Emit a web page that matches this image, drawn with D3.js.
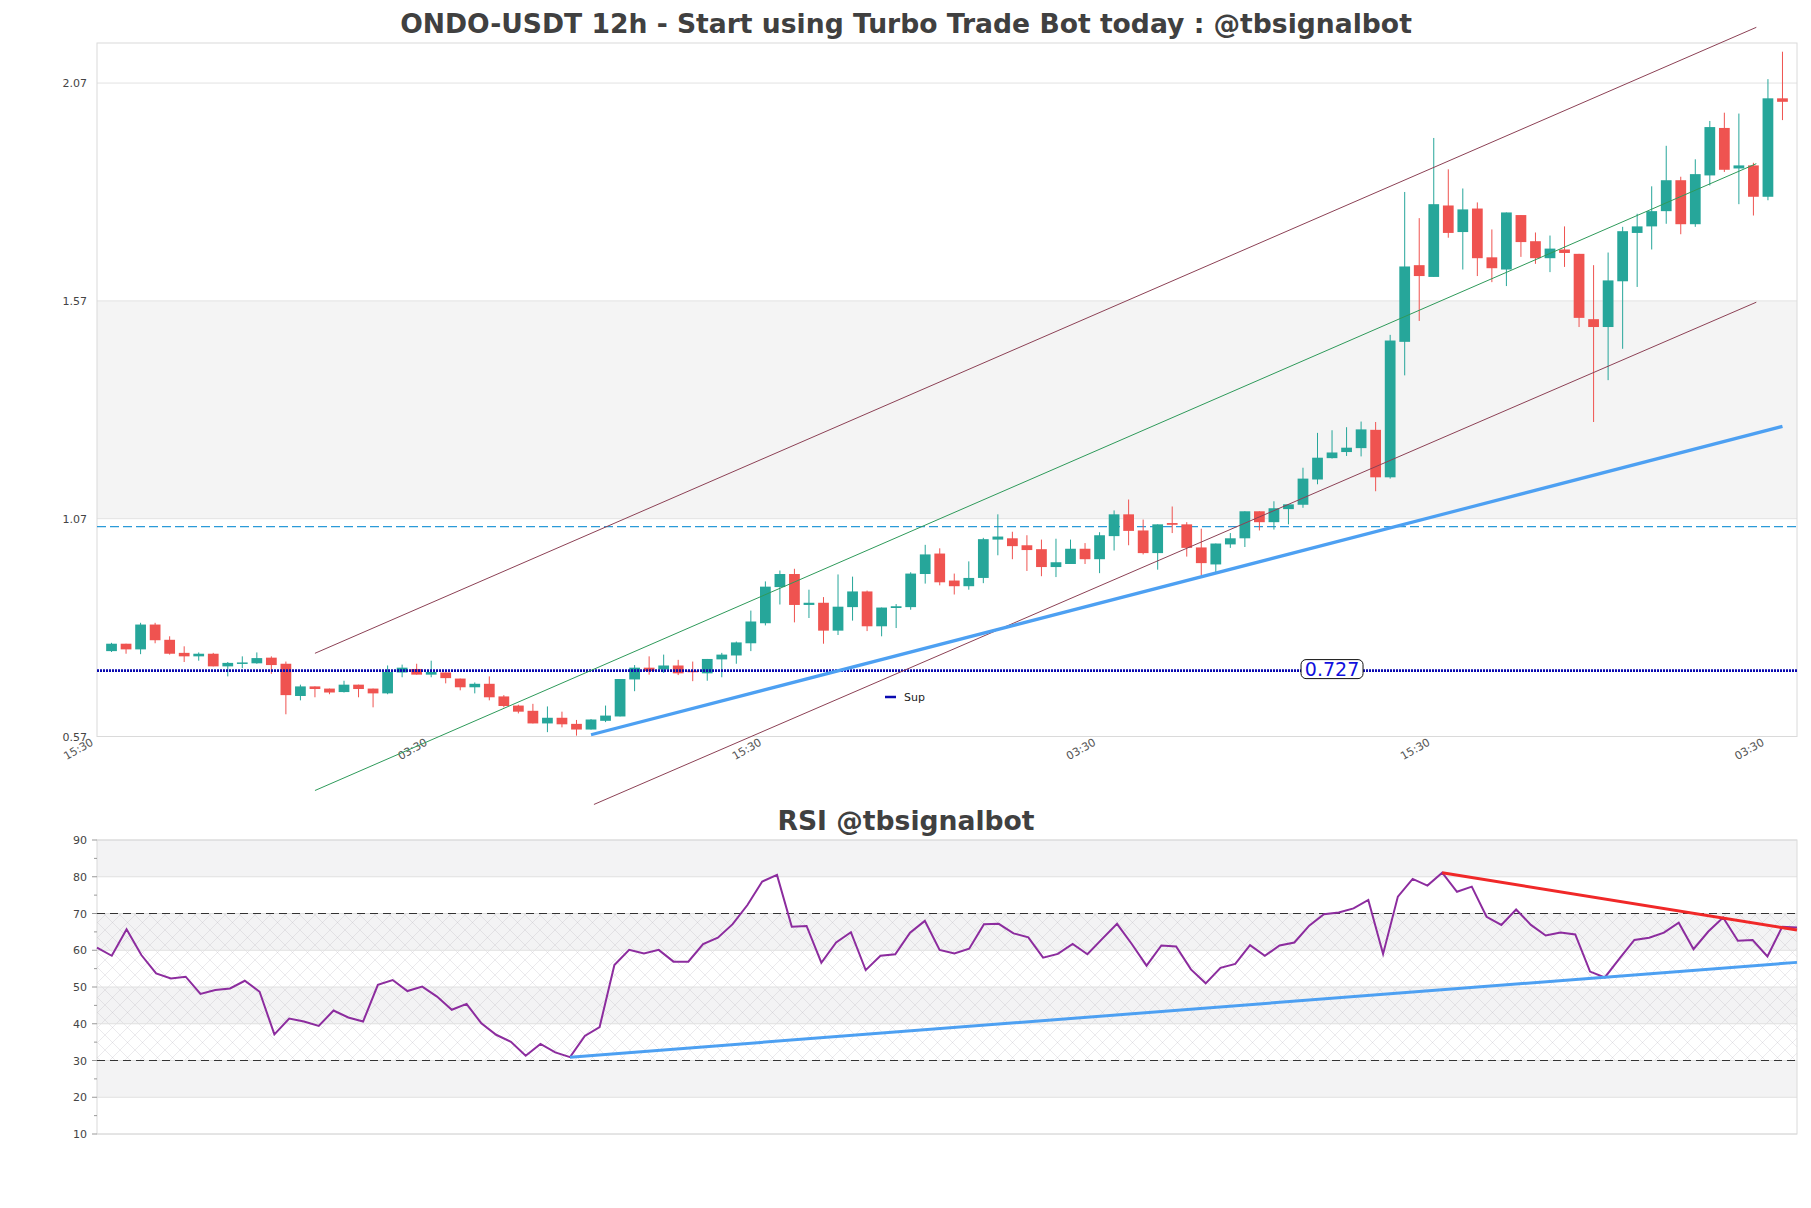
<!DOCTYPE html>
<html><head><meta charset="utf-8">
<script src="https://cdn.jsdelivr.net/npm/d3@7"></script>
<style>body{margin:0;background:#fff}svg{display:block}</style>
</head><body><svg id="c" width="1811" height="1208"></svg>
<script>
// ---------- DATA ----------
const opens  = [0.766,0.783,0.770,0.827,0.792,0.762,0.754,0.760,0.731,0.737,0.738,0.751,0.737,0.663,0.685,0.680,0.672,0.689,0.680,0.669,
0.717,0.725,0.712,0.717,0.703,0.683,0.691,0.662,0.641,0.629,0.600,0.613,0.599,0.586,0.606,0.616,0.701,0.728,0.724,0.733,
0.721,0.715,0.747,0.756,0.784,0.830,0.913,0.943,0.872,0.877,0.813,0.867,0.903,0.823,0.865,0.867,0.943,0.990,0.928,0.915,
0.934,1.022,1.025,1.009,1.000,0.959,0.966,1.001,0.977,1.030,1.080,1.043,0.991,1.060,1.057,1.004,0.965,1.011,1.025,1.087,
1.062,1.092,1.102,1.160,1.209,1.223,1.232,1.274,1.165,1.476,1.652,1.625,1.789,1.728,1.782,1.670,1.642,1.767,1.707,1.668,
1.688,1.678,1.528,1.510,1.615,1.726,1.741,1.776,1.847,1.746,1.858,1.967,1.874,1.881,1.809,2.035];
const highs  = [0.785,0.783,0.831,0.831,0.800,0.777,0.763,0.762,0.741,0.754,0.763,0.754,0.742,0.689,0.685,0.680,0.698,0.689,0.680,0.733,
0.735,0.737,0.744,0.717,0.703,0.694,0.708,0.665,0.643,0.645,0.639,0.627,0.608,0.610,0.641,0.702,0.734,0.754,0.758,0.746,
0.742,0.748,0.762,0.788,0.859,0.926,0.951,0.955,0.907,0.890,0.942,0.937,0.905,0.866,0.874,0.947,1.010,1.002,0.944,0.972,
1.026,1.080,1.040,1.032,1.022,1.024,1.022,1.014,1.039,1.089,1.114,1.068,1.057,1.098,1.062,1.047,1.013,1.037,1.087,1.087,
1.110,1.103,1.187,1.267,1.273,1.280,1.293,1.292,1.492,1.820,1.760,1.944,1.872,1.828,1.796,1.734,1.773,1.767,1.727,1.720,
1.741,1.678,1.652,1.681,1.740,1.770,1.833,1.926,1.855,1.895,1.983,2.002,2.000,1.887,2.079,2.142];
const lows   = [0.764,0.760,0.759,0.784,0.758,0.741,0.744,0.731,0.708,0.727,0.737,0.714,0.621,0.653,0.660,0.667,0.671,0.660,0.637,0.667,
0.706,0.712,0.706,0.692,0.676,0.669,0.653,0.637,0.623,0.600,0.580,0.591,0.572,0.586,0.603,0.616,0.674,0.712,0.716,0.711,
0.697,0.698,0.706,0.737,0.766,0.825,0.873,0.832,0.842,0.783,0.803,0.836,0.812,0.800,0.819,0.861,0.921,0.917,0.896,0.907,
0.922,0.986,0.977,0.950,0.938,0.936,0.966,0.966,0.945,0.997,1.009,0.988,0.953,1.037,0.983,0.940,0.945,1.003,1.005,1.043,
1.045,1.057,1.095,1.149,1.208,1.214,1.213,1.133,1.162,1.399,1.524,1.625,1.715,1.642,1.627,1.613,1.604,1.671,1.655,1.636,
1.648,1.510,1.292,1.388,1.460,1.602,1.688,1.747,1.723,1.740,1.835,1.866,1.792,1.766,1.801,1.985];
const closes = [0.783,0.770,0.827,0.791,0.760,0.754,0.760,0.731,0.739,0.740,0.750,0.734,0.665,0.685,0.679,0.671,0.689,0.679,0.669,0.718,
0.728,0.712,0.718,0.704,0.683,0.691,0.660,0.640,0.627,0.600,0.613,0.598,0.586,0.609,0.618,0.702,0.728,0.720,0.733,0.715,
0.718,0.748,0.758,0.786,0.834,0.914,0.943,0.872,0.877,0.813,0.868,0.903,0.823,0.866,0.869,0.944,0.988,0.924,0.915,0.934,
1.023,1.029,1.007,0.998,0.959,0.970,1.001,0.977,1.032,1.080,1.042,0.991,1.057,1.056,1.003,0.968,1.013,1.025,1.087,1.062,
1.094,1.103,1.162,1.210,1.222,1.233,1.275,1.165,1.479,1.649,1.627,1.792,1.726,1.780,1.668,1.645,1.773,1.705,1.668,1.690,
1.680,1.531,1.510,1.617,1.730,1.741,1.776,1.847,1.746,1.861,1.969,1.871,1.881,1.809,2.035,2.027];
const rsiValues = [60.7,58.5,65.7,58.7,53.7,52.3,52.8,48.1,49.2,49.6,51.7,48.7,37.1,41.4,40.6,39.4,43.6,41.7,40.6,50.6,
51.9,48.9,50.1,47.4,43.8,45.4,40.1,37.0,35.1,31.3,34.5,32.2,30.9,36.7,39.1,56.0,60.1,59.1,60.1,56.9,
56.9,61.7,63.4,67.1,72.3,78.7,80.5,66.4,66.6,56.6,62.1,64.9,54.6,58.5,58.9,64.8,68.0,60.1,59.1,60.4,
67.1,67.2,64.6,63.5,58.0,59.0,61.7,58.9,63.1,67.2,61.7,55.8,61.3,61.0,54.8,51.0,55.2,56.3,61.4,58.5,
61.3,62.1,66.7,69.8,70.3,71.4,73.7,59.0,74.6,79.4,77.6,81.1,75.9,77.3,69.1,66.9,71.1,66.9,64.0,64.8,
64.3,54.2,52.6,57.8,62.8,63.4,64.8,67.5,60.3,65.1,68.9,62.6,62.8,58.3,66.4,66.2];

const priceTicks = [0.57, 1.07, 1.57, 2.07];
const priceTickLabels = ["0.57", "1.07", "1.57", "2.07"];
const timeTickIdx = [-1, 22, 45, 68, 91, 114];
const timeTickLabels = ["15:30", "03:30", "15:30", "03:30", "15:30", "03:30"];
const rsiTicks = [10, 20, 30, 40, 50, 60, 70, 80, 90];
const rsiMinorTicks = [15, 25, 35, 45, 55, 65, 75, 85];
const supLevel = 0.727;
const supLabel = "0.727";
const resistLevel = 1.052;
const channelUpper = [[14, 0.761], [113.2, 2.198]];
const channelMid   = [[14, 0.446], [113.2, 1.885]];
const channelLower = [[33.2, 0.414], [113.2, 1.567]];
const supportTrend = [[33, 0.574], [115, 1.282]];
const rsiSupport = [[32, 30.9], [115, 56.7]];
const rsiResist  = [[91, 81.1], [115, 65.5]];
const mainTitle = "ONDO-USDT 12h - Start using Turbo Trade Bot today : @tbsignalbot";
const rsiTitle = "RSI @tbsignalbot";

// ---------- LAYOUT ----------
const L = 97, R = 1797, T = 43, B = 736.5;
const RT = 840, RB = 1134;
const svg = d3.select("#c");
const font = "DejaVu Sans, Liberation Sans, sans-serif";

const x = d3.scaleLinear().domain([-1, 116]).range([L, R]);
const y = d3.scaleLinear().domain([0.57, 2.162]).range([B, T]);
const xr = d3.scaleLinear().domain([0, rsiValues.length - 1]).range([L, R]);
const yr = d3.scaleLinear().domain([10, 90]).range([RB, RT]);

svg.append("rect").attr("width", 1811).attr("height", 1208).attr("fill", "#fff");

const defs = svg.append("defs");
const pat = defs.append("pattern").attr("id", "hatch").attr("patternUnits", "userSpaceOnUse")
  .attr("width", 15).attr("height", 15);
pat.append("path").attr("d", "M0,0L15,15M15,0L0,15").attr("stroke", "rgba(165,160,175,0.32)")
  .attr("stroke-width", 0.7).attr("fill", "none");

// titles
svg.append("text").attr("x", 906).attr("y", 33).attr("text-anchor", "middle")
  .attr("font-family", font).attr("font-weight", "bold").attr("font-size", 26.6)
  .attr("fill", "#404040").text(mainTitle);
svg.append("text").attr("x", 906).attr("y", 830).attr("text-anchor", "middle")
  .attr("font-family", font).attr("font-weight", "bold").attr("font-size", 26.6)
  .attr("fill", "#404040").text(rsiTitle);

// ---------- MAIN PANEL ----------
const main = svg.append("g");
main.append("rect").attr("x", L).attr("y", y(1.57)).attr("width", R - L)
  .attr("height", y(1.07) - y(1.57)).attr("fill", "#f4f4f4");
main.selectAll("line.grid").data(priceTicks).join("line")
  .attr("x1", L).attr("x2", R).attr("y1", d => y(d)).attr("y2", d => y(d))
  .attr("stroke", "#e2e2e2").attr("stroke-width", 1);
main.append("rect").attr("x", L).attr("y", T).attr("width", R - L).attr("height", B - T)
  .attr("fill", "none").attr("stroke", "#dadada").attr("stroke-width", 1);

// y labels
main.selectAll("text.yl").data(priceTicks).join("text")
  .attr("x", L - 10).attr("y", d => y(d) + 4).attr("text-anchor", "end")
  .attr("font-family", font).attr("font-size", 11).attr("fill", "#444")
  .text((d, i) => priceTickLabels[i]);
// x labels
main.selectAll("text.xl").data(timeTickIdx).join("text")
  .attr("transform", d => `translate(${x(d) - 3},${B + 8}) rotate(-30)`)
  .attr("text-anchor", "end").attr("font-family", font).attr("font-size", 11)
  .attr("fill", "#555").text((d, i) => timeTickLabels[i]);

// resistance dashed
main.append("line").attr("x1", L).attr("x2", R).attr("y1", y(resistLevel)).attr("y2", y(resistLevel))
  .attr("stroke", "#2b9ad8").attr("stroke-width", 1.3).attr("stroke-dasharray", "9,4");

// candles
const idx = d3.range(opens.length);
const step = x(1) - x(0);
const bw = step * 0.74;
const green = "#26a69a", red = "#ef5350";
const cg = main.append("g");
cg.selectAll("line.w").data(idx).join("line")
  .attr("x1", i => x(i)).attr("x2", i => x(i))
  .attr("y1", i => y(highs[i])).attr("y2", i => y(lows[i]))
  .attr("stroke", i => closes[i] >= opens[i] ? green : red).attr("stroke-width", 1);
cg.selectAll("rect.b").data(idx).join("rect")
  .attr("x", i => x(i) - bw / 2).attr("width", bw)
  .attr("y", i => y(Math.max(opens[i], closes[i])))
  .attr("height", i => Math.max(1.5, Math.abs(y(opens[i]) - y(closes[i]))))
  .attr("fill", i => closes[i] >= opens[i] ? green : red);

// support level dotted
const supY = y(supLevel) + 2.5;
main.append("line").attr("x1", L).attr("x2", R).attr("y1", supY).attr("y2", supY)
  .attr("stroke", "#0a0ab0").attr("stroke-width", 2.6).attr("stroke-dasharray", "2,1");

// channel lines
const seg = (g, pts, color, w) => g.append("line")
  .attr("x1", x(pts[0][0])).attr("y1", y(pts[0][1]))
  .attr("x2", x(pts[1][0])).attr("y2", y(pts[1][1]))
  .attr("stroke", color).attr("stroke-width", w);
seg(main, channelUpper, "#8c4155", 1);
seg(main, channelLower, "#8c4155", 1);
seg(main, channelMid, "#2e9a5a", 1);
seg(main, supportTrend, "#4da0f2", 3.2).attr("stroke-linecap", "butt");

// sup label
const lx = x(84), ly = y(supLevel) + 1;
main.append("rect").attr("x", lx - 31).attr("y", ly - 9.5).attr("width", 62).attr("height", 19)
  .attr("rx", 5).attr("fill", "#fff").attr("stroke", "#111").attr("stroke-width", 1);
main.append("text").attr("x", lx).attr("y", ly + 7).attr("text-anchor", "middle")
  .attr("font-family", font).attr("font-size", 19).attr("fill", "#1010dd").text(supLabel);

// legend
main.append("line").attr("x1", 885).attr("x2", 896).attr("y1", 697).attr("y2", 697)
  .attr("stroke", "#0a0ab0").attr("stroke-width", 2.5);
main.append("text").attr("x", 904).attr("y", 701).attr("font-family", font).attr("font-size", 11)
  .attr("fill", "#222").text("Sup");

// ---------- RSI PANEL ----------
const rg = svg.append("g");
[[80, 90], [60, 70], [40, 50], [20, 30]].forEach(b => {
  rg.append("rect").attr("x", L).attr("y", yr(b[1])).attr("width", R - L)
    .attr("height", yr(b[0]) - yr(b[1])).attr("fill", "#f3f3f4");
});
rg.append("rect").attr("x", L).attr("y", yr(70)).attr("width", R - L)
  .attr("height", yr(30) - yr(70)).attr("fill", "url(#hatch)");
rg.selectAll("line.g").data(rsiTicks).join("line")
  .attr("x1", L).attr("x2", R).attr("y1", d => yr(d)).attr("y2", d => yr(d))
  .attr("stroke", "#e0e0e0").attr("stroke-width", 1);
rg.append("rect").attr("x", L).attr("y", RT).attr("width", R - L).attr("height", RB - RT)
  .attr("fill", "none").attr("stroke", "#dadada").attr("stroke-width", 1);
[30, 70].forEach(v => rg.append("line").attr("x1", L).attr("x2", R)
  .attr("y1", yr(v)).attr("y2", yr(v)).attr("stroke", "#333").attr("stroke-width", 1.2)
  .attr("stroke-dasharray", "8,5"));
rg.selectAll("line.mt").data(rsiTicks).join("line")
  .attr("x1", L - 5).attr("x2", L).attr("y1", d => yr(d)).attr("y2", d => yr(d))
  .attr("stroke", "#999");
rg.selectAll("line.nt").data(rsiMinorTicks).join("line")
  .attr("x1", L - 3).attr("x2", L).attr("y1", d => yr(d)).attr("y2", d => yr(d))
  .attr("stroke", "#999");
rg.selectAll("text.rl").data(rsiTicks).join("text")
  .attr("x", L - 10).attr("y", d => yr(d) + 4).attr("text-anchor", "end")
  .attr("font-family", font).attr("font-size", 11).attr("fill", "#444").text(d => d);

rg.append("path").datum(rsiValues)
  .attr("d", d3.line().x((d, i) => xr(i)).y(d => yr(d)))
  .attr("fill", "none").attr("stroke", "#8c2c9e").attr("stroke-width", 2);

const rseg = (pts, color, w) => rg.append("line")
  .attr("x1", xr(pts[0][0])).attr("y1", yr(pts[0][1]))
  .attr("x2", xr(pts[1][0])).attr("y2", yr(pts[1][1]))
  .attr("stroke", color).attr("stroke-width", w);
rseg(rsiSupport, "#4da0f2", 3);
rseg(rsiResist, "#f02828", 3);
</script></body></html>
